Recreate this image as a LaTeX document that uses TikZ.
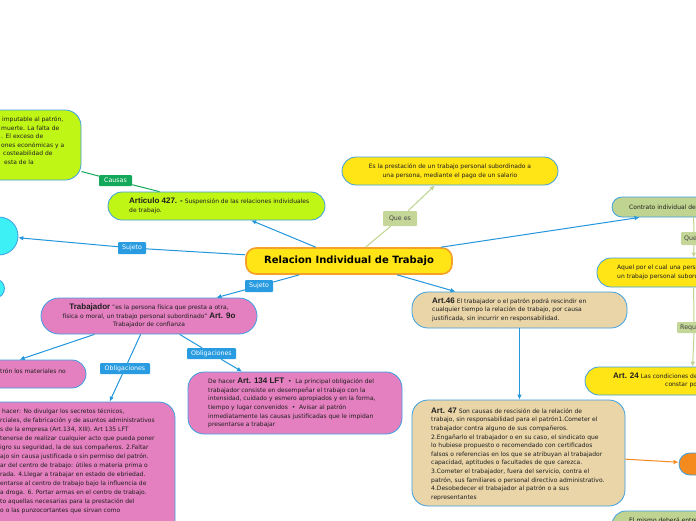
\documentclass[tikz,border=0pt]{standalone}
\usepackage{fontspec}
\setmainfont{DejaVu Sans}
\newfontfamily\hdfont{Liberation Sans}
\usetikzlibrary{shapes.geometric,arrows.meta,calc}
\definecolor{cLime}{RGB}{192,246,22}
\definecolor{cYel}{RGB}{255,228,22}
\definecolor{cPink}{RGB}{228,128,192}
\definecolor{cTan}{RGB}{233,213,168}
\definecolor{cOliveBox}{RGB}{192,212,145}
\definecolor{cCyan}{RGB}{60,240,245}
\definecolor{cOrange}{RGB}{245,138,30}
\definecolor{cBord}{RGB}{60,160,225}
\definecolor{cLine}{RGB}{35,150,220}
\definecolor{cLbl}{RGB}{40,155,225}
\definecolor{cGreen}{RGB}{20,168,90}
\definecolor{cOliveLbl}{RGB}{196,214,152}
\definecolor{cOliveLn}{RGB}{190,212,140}
\definecolor{cMainBord}{RGB}{245,160,40}
\definecolor{cTxt}{RGB}{30,30,30}
\newcommand{\hd}[1]{{\hdfont\bfseries\fontsize{8}{8.6}\selectfont #1}}
\tikzset{
  box/.style={draw=cBord, line width=0.8pt, inner sep=0pt},
  body/.style={font=\fontsize{6}{8.6}\selectfont, text=cTxt, align=left, inner sep=0pt},
  lbl/.style={fill=cLbl, text=white, font=\fontsize{6.3}{7}\selectfont, inner xsep=3pt, inner ysep=0pt, minimum height=11pt, rounded corners=1pt},
  olbl/.style={lbl, fill=cOliveLbl, text=cTxt!85},
  ln/.style={draw=cLine, line width=1pt},
  arr/.style={ln, -{Latex[length=5pt,width=4.6pt]}},
  olln/.style={draw=cOliveLn, line width=1pt},
  olarr/.style={olln, -{Latex[length=5pt,width=4.6pt]}},
  grln/.style={draw=cGreen, line width=1pt},
  orarr/.style={draw=cOrange, line width=1pt, -{Latex[length=5pt,width=4.6pt]}},
}
\begin{document}
\begin{tikzpicture}[x=1pt,y=-1pt]
\useasboundingbox (0,0) rectangle (696,520);
\clip (0,0) rectangle (696,520);
\fill[white] (0,0) rectangle (696,520);

% ---------- main node ----------
\node[draw=cMainBord, line width=1.6pt, fill=cYel, rounded corners=10pt, minimum width=206pt, minimum height=26pt, inner sep=0pt, font=\bfseries\fontsize{10}{12}\selectfont, text=black] (main) at (349,261) {Relacion Individual de Trabajo};

% ---------- top-left green ----------
\node[box, fill=cLime, rounded corners=16pt, minimum width=200pt, minimum height=70pt] (tl) at (-19,145) {};
\node[body, anchor=north west] (tlt) at (1,116.5) {\hspace{1pt}imputable al patrón,\\muerte. La falta de\\. El exceso de\\ones económicas y a\\\hspace{2pt}costeabilidad de\\\hspace{3pt}esta de la};
\node[lbl, fill=cGreen, minimum width=33pt] (causas) at (115.5,180.5) {Causas};

% ---------- Articulo 427 ----------
\node[box, fill=cLime, rounded corners=14pt, minimum width=217pt, minimum height=28pt] (a427) at (216.5,206) {};
\node[body, anchor=north west] (a427t) at (129,197.5) {\hd{Articulo 427. -} Suspensión de las relaciones individuales\\de trabajo.};

% ---------- definition ----------
\node[box, body, align=center, fill=cYel, rounded corners=14pt, minimum width=216pt, minimum height=28pt] (def) at (450,171) {Es la prestación de un trabajo personal subordinado a\\una persona, mediante el pago de un salario};
\node[olbl, minimum width=34pt, minimum height=15pt] (quees) at (400,218.5) {Que es};

% ---------- right column ----------
\node[box, fill=cOliveBox, rounded corners=10pt, minimum width=210pt, minimum height=20pt] (contr) at (717,207) {};
\node[body, anchor=west] (contrt) at (629,207.5) {Contrato individual de};
\node[olbl, anchor=west, minimum height=13pt] (que2) at (681,238.5) {Que};
\node[box, fill=cYel, rounded corners=14pt, minimum width=230pt, minimum height=29pt] (aquel) at (712,272.5) {};
\node[body, anchor=north west] (aquelt) at (617,265) {Aquel por el cual una pers\\un trabajo personal subord};
\node[olbl, anchor=west, minimum height=11pt] (requ) at (677,327.5) {Requ};
\node[box, fill=cYel, rounded corners=14pt, minimum width=240pt, minimum height=28pt] (art24) at (705,381) {};
\node[body, anchor=north west] (art24a) at (613,372.5) {\hd{Art. 24} Las condiciones de};
\node[body, anchor=north west] (art24b) at (665,382.5) {constar po};
\node[box, fill=cOrange, rounded corners=11pt, minimum width=60pt, minimum height=22pt] (orng) at (709,464) {};
\node[box, fill=cOliveBox, rounded corners=14pt, minimum width=220pt, minimum height=40pt] (bgr) at (722,531) {};
\node[body, anchor=north west] (bgrt) at (629,517.5) {El mismo deberá entre};

% ---------- Art 46 / 47 ----------
\node[box, fill=cTan, rounded corners=16pt, minimum width=215pt, minimum height=36pt] (art46) at (519.5,310) {};
\node[body, anchor=north west] (art46t) at (432,297.5) {\hd{Art.46} El trabajador o el patrón podrá rescindir en\\cualquier tiempo la relación de trabajo, por causa\\justificada, sin incurrir en responsabilidad.};
\node[box, fill=cTan, rounded corners=16pt, minimum width=213pt, minimum height=106pt] (art47) at (518.5,453) {};
\node[body, anchor=north west] (art47t) at (431,407.5) {\hd{Art. 47} Son causas de rescisión de la relación de\\trabajo, sin responsabilidad para el patrón1.Cometer el\\trabajador contra alguno de sus compañeros.\\2.Engañarlo el trabajador o en su caso, el sindicato que\\lo hubiese propuesto o recomendado con certificados\\falsos o referencias en los que se atribuyan al trabajador\\capacidad, aptitudes o facultades de que carezca.\\3.Cometer el trabajador, fuera del servicio, contra el\\patrón, sus familiares o personal directivo administrativo.\\4.Desobedecer el trabajador al patrón o a sus\\representantes};

% ---------- left side ----------
\node[draw=cBord, line width=0.8pt, fill=cCyan, circle, minimum size=38pt, inner sep=0pt] (cy1) at (-1,236) {};
\node[draw=cBord, line width=0.8pt, fill=cCyan, circle, minimum size=19pt, inner sep=0pt] (cy2) at (-5,288.5) {};
\node[lbl, minimum width=28pt, minimum height=12pt] (suj1) at (132,248) {Sujeto};
\node[lbl, minimum width=28pt, minimum height=12pt] (suj2) at (259,286) {Sujeto};

\node[box, body, align=center, fill=cPink, rounded corners=18pt, minimum width=216pt, minimum height=36pt] (trab) at (149,316) {\hd{Trabajador} "es la persona física que presta a otra,\\física o moral, un trabajo personal subordinado" \hd{Art. 9o}\\Trabajador de confianza};
\node[lbl, minimum width=49pt] (obl2) at (211.5,353.5) {Obligaciones};
\node[lbl, minimum width=50pt] (obl1) at (125,368.5) {Obligaciones};

\node[box, fill=cPink, rounded corners=14pt, minimum width=186pt, minimum height=28pt] (leftp) at (-7,374) {};
\node[body, anchor=west] (leftpt) at (0,371.5) {trón los materiales no};

\node[box, fill=cPink, rounded corners=16pt, minimum width=325pt, minimum height=170pt] (bigp) at (12.5,487) {};
\node[body, anchor=north west, font=\fontsize{6}{9}\selectfont] (bigpt) at (0,408) {\hspace{2pt}hacer: No divulgar los secretos técnicos,\\rciales, de fabricación y de asuntos administrativos\\s de la empresa (Art.134, XIII). Art 135 LFT\\tenerse de realizar cualquier acto que pueda poner\\igro su seguridad, la de sus compañeros. 2.Faltar\\ajo sin causa justificada o sin permiso del patrón.\\ar del centro de trabajo: útiles o materia prima o\\rada. 4.Llegar a trabajar en estado de ebriedad.\\entarse al centro de trabajo bajo la influencia de\\a droga. 6. Portar armas en el centro de trabajo.\\to aquellas necesarias para la prestación del\\o o las punzocortantes que sirvan como};

\node[box, fill=cPink, rounded corners=16pt, minimum width=214pt, minimum height=62pt] (midp) at (295,403) {};
\node[body, anchor=north west] (midpt) at (208,378) {De hacer \hd{Art. 134 LFT} ~•~ La principal obligación del\\trabajador consiste en desempeñar el trabajo con la\\intensidad, cuidado y esmero apropiados y en la forma,\\tiempo y lugar convenidos ~•~ Avisar al patrón\\inmediatamente las causas justificadas que le impidan\\presentarse a trabajar};

% ---------- connectors ----------
\draw[arr] (main) -- (a427);
\draw[grln] (a427) -- (causas);
\draw[grln] (causas) -- (tl);
\draw[olln] (main) -- (quees);
\draw[olarr] (quees) -- (def);
\draw[arr] (main) -- ($(contr.south west)+(28,0)$);
\draw[olln] ($(contr.south west)+(82,0)$) -- ($(que2.north west)+(13,0)$);
\draw[olarr] ($(que2.south west)+(13,0)$) -- ($(aquel.north west)+(97,0)$);
\draw[olln] ($(aquel.south west)+(97,0)$) -- ($(requ.north west)+(17,0)$);
\draw[olarr] ($(requ.south west)+(17,0)$) -- ($(art24.north west)+(108,0)$);
\draw[arr] (main) -- ($(art46.north)+(-64,0)$);
\draw[arr] (art46.south) -- (art46.south |- art47.north);
\draw[orarr] (art47) -- (orng);
\draw[ln] (main) -- (suj1);
\draw[arr] (suj1) -- (cy1);
\draw[ln] (main) -- (suj2);
\draw[arr] (suj2) -- (trab);
\draw[arr] (trab) -- ($(leftp.north west)+(120,0)$);
\draw[ln] (trab) -- (obl1);
\draw[arr] (obl1) -- ($(bigp.north west)+(260,0)$);
\draw[ln] (trab) -- (obl2);
\draw[arr] (obl2) -- (midp);
\end{tikzpicture}
\end{document}
